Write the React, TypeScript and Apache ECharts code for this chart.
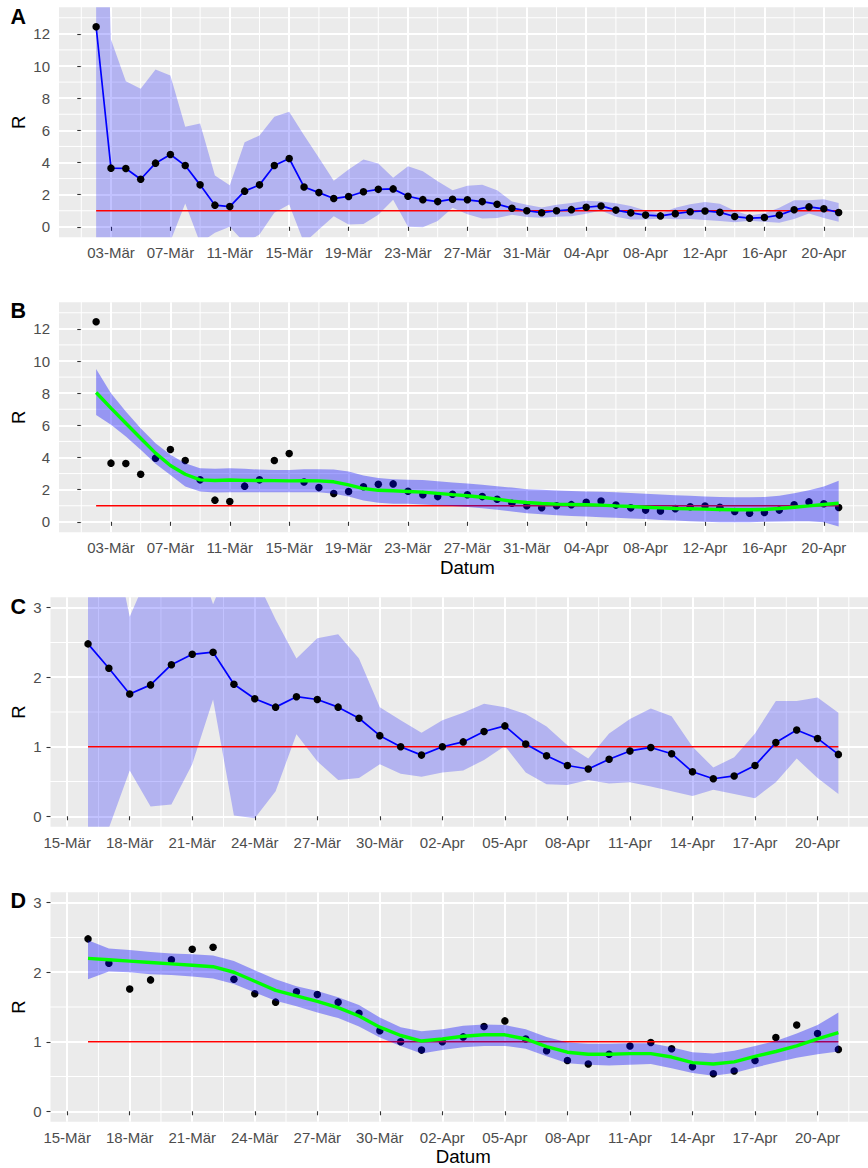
import React, { useEffect, useRef } from "react";
import * as echarts from "echarts";

// Day numbers are counted from 01-Mär-2020 (= day 0).
const FIRST_DAY_AB = 1; // 02-Mär
const FIRST_DAY_CD = 15; // 16-Mär

// R estimates (02-Mär .. 21-Apr)
const R_VALUES = [
  12.44, 3.65, 3.63, 2.96, 3.96, 4.5, 3.81, 2.61, 1.35, 1.26, 2.22, 2.61, 3.81, 4.25,
  2.48, 2.13, 1.76, 1.89, 2.18, 2.33, 2.36, 1.9, 1.69, 1.57, 1.72, 1.68, 1.57, 1.41, 1.16, 1.0,
  0.88, 1.0, 1.07, 1.22, 1.3, 1.04, 0.87, 0.73, 0.68, 0.82, 0.94, 0.99, 0.9, 0.64, 0.54, 0.58, 0.73, 1.06, 1.24, 1.12, 0.89,
];
const R_LOWER = [
  -3.0, -2.5, -2.2, -1.8, -1.5, -0.9, 1.45, -1.0, -0.37, 0.0, -1.0, -0.48, 0.87, 1.39,
  -1.0, -0.17, 0.66, 0.14, 0.17, 0.75, 1.68, 0.01, -0.03, 0.36, 1.18, 0.79, 0.52, 0.55, 0.75, 0.61,
  0.57, 0.63, 0.66, 0.81, 1.01, 0.63, 0.46, 0.45, 0.52, 0.47, 0.49, 0.43, 0.36, 0.29, 0.38, 0.32, 0.26, 0.49, 0.83, 0.55, 0.32,
];
const R_UPPER = [
  40, 11.65, 9.06, 8.58, 9.78, 9.41, 6.22, 6.42, 3.19, 2.59, 5.26, 5.68, 6.84, 7.15,
  5.7, 4.3, 2.87, 3.56, 4.19, 3.94, 3.05, 3.77, 3.46, 2.83, 2.27, 2.56, 2.62, 2.27, 1.57, 1.38,
  1.2, 1.38, 1.49, 1.62, 1.57, 1.47, 1.29, 1.02, 0.83, 1.19, 1.4, 1.55, 1.44, 1.0, 0.7, 0.85, 1.19, 1.66, 1.66, 1.71, 1.49,
];

// Smoothed fit, panel B (02-Mär .. 21-Apr)
const SMOOTH_B = [
  8.04, 7.07, 6.13, 5.2, 4.27, 3.5, 2.96, 2.61, 2.57, 2.6, 2.58, 2.57, 2.56, 2.55,
  2.56, 2.55, 2.49, 2.3, 2.07, 1.96, 1.93, 1.89, 1.85, 1.77, 1.69, 1.62, 1.53, 1.41, 1.28, 1.2,
  1.14, 1.1, 1.08, 1.06, 1.04, 0.99, 0.95, 0.91, 0.87, 0.83, 0.81, 0.79, 0.77, 0.75, 0.75, 0.77, 0.83, 0.91, 0.99, 1.08, 1.16,
];
const SMOOTH_B_UPPER = [
  9.51, 8.0, 6.86, 5.82, 4.89, 4.17, 3.65, 3.34, 3.3, 3.34, 3.3, 3.25, 3.23, 3.23,
  3.27, 3.27, 3.25, 3.13, 2.88, 2.72, 2.65, 2.61, 2.6, 2.52, 2.45, 2.38, 2.3, 2.22, 2.13, 2.03,
  1.99, 1.95, 1.92, 1.89, 1.87, 1.84, 1.8, 1.75, 1.7, 1.66, 1.62, 1.57, 1.55, 1.53, 1.53, 1.54, 1.62, 1.78, 1.97, 2.2, 2.55,
];
const SMOOTH_B_LOWER = [
  6.65, 6.03, 5.31, 4.48, 3.61, 2.92, 2.2, 1.89, 1.82, 1.84, 1.84, 1.84, 1.84, 1.84,
  1.84, 1.84, 1.74, 1.58, 1.33, 1.18, 1.13, 1.12, 1.08, 1.03, 0.98, 0.93, 0.85, 0.75, 0.64, 0.54,
  0.48, 0.41, 0.37, 0.33, 0.29, 0.25, 0.21, 0.17, 0.12, 0.08, 0.04, 0.0, -0.02, -0.02, -0.02, 0.0, 0.02, 0.04, 0.04, -0.02, -0.29,
];

// Smoothed fit, panel D (16-Mär .. 21-Apr)
const SMOOTH_D = [
  2.2, 2.18, 2.16, 2.14, 2.12, 2.1, 2.08, 2.0, 1.87, 1.74, 1.66, 1.58, 1.49, 1.37, 1.21, 1.09,
  1.01, 1.04, 1.08, 1.1, 1.1, 1.04, 0.93, 0.85, 0.82, 0.82, 0.83, 0.83, 0.78, 0.7, 0.68, 0.71, 0.79, 0.86, 0.94, 1.04, 1.13,
];
const SMOOTH_D_UPPER = [
  2.46, 2.34, 2.32, 2.29, 2.27, 2.26, 2.24, 2.16, 2.03, 1.9, 1.8, 1.73, 1.64, 1.53, 1.35, 1.21,
  1.15, 1.18, 1.23, 1.25, 1.24, 1.18, 1.07, 0.99, 0.97, 0.97, 0.98, 0.98, 0.92, 0.85, 0.83, 0.87, 0.94, 1.01, 1.12, 1.24, 1.42,
];
const SMOOTH_D_LOWER = [
  1.9, 2.01, 2.0, 1.97, 1.96, 1.94, 1.91, 1.83, 1.71, 1.59, 1.51, 1.42, 1.34, 1.22, 1.06, 0.94,
  0.83, 0.88, 0.92, 0.94, 0.94, 0.9, 0.79, 0.69, 0.67, 0.66, 0.67, 0.68, 0.62, 0.55, 0.51, 0.55, 0.63, 0.7, 0.77, 0.82, 0.86,
];

// Axis ticks (day numbers) and grid lines
const X_TICKS_AB = [2, 6, 10, 14, 18, 22, 26, 30, 34, 38, 42, 46, 50];
const X_MINOR_AB = [0, 4, 8, 12, 16, 20, 24, 28, 32, 36, 40, 44, 48, 52];
const X_TICKS_CD = [14, 17, 20, 23, 26, 29, 32, 35, 38, 41, 44, 47, 50];
const X_MINOR_CD = [15.5, 18.5, 21.5, 24.5, 27.5, 30.5, 33.5, 36.5, 39.5, 42.5, 45.5, 48.5, 51.5];
const Y_TICKS_AB = [0, 2, 4, 6, 8, 10, 12];
const Y_MINOR_AB = [1, 3, 5, 7, 9, 11, 13];
const Y_TICKS_CD = [0, 1, 2, 3];
const Y_MINOR_CD = [0.5, 1.5, 2.5];

const REFERENCE_R = 1;
const Y_TITLE = "R";
const X_TITLE = "Datum";
const FONT = "'Liberation Sans', Arial, Helvetica, sans-serif";

function dayLabel(v: number): string {
  const d = Math.round(v);
  const pad = (n: number) => (n < 10 ? "0" + n : "" + n);
  if (d < 31) return pad(d + 1) + "-Mär";
  return pad(d - 30) + "-Apr";
}

type Panel = {
  label: string;
  labelY: number;
  left: number;
  top: number;
  width: number;
  height: number;
  xmin: number;
  xmax: number;
  ymin: number;
  ymax: number;
  xTicks: number[];
  xMinor: number[];
  yTicks: number[];
  yMinor: number[];
  xName: string;
  smooth: boolean;
};

const PANELS: Panel[] = [
  { label: "A", labelY: 17, left: 59, top: 7.3, width: 816.8, height: 230, xmin: -1.5, xmax: 53.5, ymin: -0.65, ymax: 13.65,
    xTicks: X_TICKS_AB, xMinor: X_MINOR_AB, yTicks: Y_TICKS_AB, yMinor: Y_MINOR_AB, xName: "", smooth: false },
  { label: "B", labelY: 310.8, left: 59, top: 302.3, width: 816.8, height: 230, xmin: -1.5, xmax: 53.5, ymin: -0.65, ymax: 13.65,
    xTicks: X_TICKS_AB, xMinor: X_MINOR_AB, yTicks: Y_TICKS_AB, yMinor: Y_MINOR_AB, xName: X_TITLE, smooth: true },
  { label: "C", labelY: 606.7, left: 50.5, top: 597.3, width: 825.4, height: 229.4, xmin: 13.2, xmax: 52.8, ymin: -0.15, ymax: 3.15,
    xTicks: X_TICKS_CD, xMinor: X_MINOR_CD, yTicks: Y_TICKS_CD, yMinor: Y_MINOR_CD, xName: "", smooth: false },
  { label: "D", labelY: 900.5, left: 50.5, top: 892.3, width: 825.4, height: 229.4, xmin: 13.2, xmax: 52.8, ymin: -0.15, ymax: 3.15,
    xTicks: X_TICKS_CD, xMinor: X_MINOR_CD, yTicks: Y_TICKS_CD, yMinor: Y_MINOR_CD, xName: X_TITLE, smooth: true },
];

function buildOption() {
  const grids: any[] = [];
  const xAxes: any[] = [];
  const yAxes: any[] = [];
  const series: any[] = [];
  const graphics: any[] = [];

  PANELS.forEach((p, g) => {
    grids.push({
      left: p.left, top: p.top, width: p.width, height: p.height,
      show: true, backgroundColor: "#EBEBEB", borderWidth: 0,
      containLabel: false, outerBoundsMode: "none",
    });
    xAxes.push({
      type: "value", gridIndex: g, min: p.xmin, max: p.xmax,
      axisLine: { show: false },
      axisTick: { show: true, length: 4, customValues: p.xTicks, lineStyle: { color: "#333333", width: 1.1 } },
      axisLabel: { customValues: p.xTicks, formatter: dayLabel, color: "#4D4D4D", fontSize: 15, fontFamily: FONT, margin: 8 },
      splitLine: { show: true, lineStyle: { color: "#FFFFFF", width: 2 } },
      name: p.xName, nameLocation: "middle", nameGap: 25.2,
      nameTextStyle: { color: "#000000", fontSize: 18.7, fontFamily: FONT },
    });
    yAxes.push({
      type: "value", gridIndex: g, min: p.ymin, max: p.ymax,
      axisLine: { show: false },
      axisTick: { show: true, length: 4, customValues: p.yTicks, lineStyle: { color: "#333333", width: 1.1 } },
      axisLabel: { customValues: p.yTicks, color: "#4D4D4D", fontSize: 15, fontFamily: FONT, margin: 9 },
      splitLine: { show: true, lineStyle: { color: "#FFFFFF", width: 2 } },
    });

    // minor grid lines
    const minor: any[] = [];
    p.xMinor.forEach((x) => { minor.push([x, -1000], [x, 1000], [x, "-"]); });
    p.yMinor.forEach((y) => { minor.push([-1000, y], [1000, y], ["-", y]); });
    series.push({
      type: "line", xAxisIndex: g, yAxisIndex: g, data: minor, symbol: "none", silent: true,
      connectNulls: false, clip: true, z: 1,
      lineStyle: { color: "#FFFFFF", width: 1 },
    });

    const first = g < 2 ? FIRST_DAY_AB : FIRST_DAY_CD;
    const offset = first - FIRST_DAY_AB;
    const rv = R_VALUES.slice(offset);
    const days = rv.map((_, i) => first + i);
    const pts = days.map((d, i) => [d, rv[i]]);

    const ribbon = (lower: number[], upper: number[], color: string, z: number) => ({
      type: "custom", xAxisIndex: g, yAxisIndex: g, clip: true, silent: true, z,
      data: days.map((d, i) => [d, lower[i], upper[i]]),
      encode: { x: 0, y: [1, 2] },
      renderItem: (params: any, api: any) => {
        if (params.dataIndex !== 0) return null;
        const top = days.map((d, i) => api.coord([d, upper[i]]));
        const bottom = days.map((d, i) => api.coord([d, lower[i]])).reverse();
        return {
          type: "polygon",
          shape: { points: top.concat(bottom) },
          style: { fill: color, stroke: "none" },
        };
      },
    });
    const refLine = (z: number) => ({
      type: "line", xAxisIndex: g, yAxisIndex: g, symbol: "none", silent: true, z,
      data: [[days[0], REFERENCE_R], [days[days.length - 1], REFERENCE_R]],
      lineStyle: { color: "#FF0000", width: 1.6 },
    });
    const scatter = (z: number) => ({
      type: "scatter", xAxisIndex: g, yAxisIndex: g, data: pts, symbol: "circle", symbolSize: 7.5,
      silent: true, z, itemStyle: { color: "#000000", opacity: 1 },
    });

    if (!p.smooth) {
      series.push(ribbon(R_LOWER.slice(offset), R_UPPER.slice(offset), "rgba(0,0,255,0.24)", 2));
      series.push(refLine(3));
      series.push({
        type: "line", xAxisIndex: g, yAxisIndex: g, data: pts, symbol: "none", silent: true, z: 4,
        lineStyle: { color: "#0000FF", width: 1.7 },
      });
      series.push(scatter(5));
    } else {
      const fit = g === 1 ? SMOOTH_B : SMOOTH_D;
      const lo = g === 1 ? SMOOTH_B_LOWER : SMOOTH_D_LOWER;
      const up = g === 1 ? SMOOTH_B_UPPER : SMOOTH_D_UPPER;
      series.push(scatter(2));
      series.push(refLine(3));
      series.push(ribbon(lo, up, "rgba(0,0,255,0.36)", 4));
      series.push({
        type: "line", xAxisIndex: g, yAxisIndex: g, data: days.map((d, i) => [d, fit[i]]),
        symbol: "none", silent: true, z: 5,
        lineStyle: { color: "#00FF00", width: 3.4 },
      });
    }

    // panel tag
    graphics.push({
      type: "text", left: 10.5, top: p.labelY - 11,
      style: { text: p.label, fill: "#000000", font: "bold 21.5px " + FONT },
    });
    // y axis title, rotated, centred on the panel
    graphics.push({
      type: "text", x: 18.5, y: p.top + p.height / 2, rotation: Math.PI / 2,
      style: { text: Y_TITLE, fill: "#000000", font: "18.7px " + FONT, textAlign: "center", textVerticalAlign: "middle" },
    });
  });

  return {
    animation: false,
    backgroundColor: "#FFFFFF",
    grid: grids,
    xAxis: xAxes,
    yAxis: yAxes,
    series,
    graphic: graphics,
  };
}

export default function App() {
  const ref = useRef<HTMLDivElement>(null);
  useEffect(() => {
    if (!ref.current) return;
    const chart = echarts.init(ref.current, null, { renderer: "svg" });
    chart.setOption(buildOption() as any);
    return () => {
      chart.dispose();
    };
  }, []);
  return (
    <div
      ref={ref}
      style={{ position: "absolute", left: 0, top: 0, width: 868, height: 1168, background: "#FFFFFF" }}
    />
  );
}
